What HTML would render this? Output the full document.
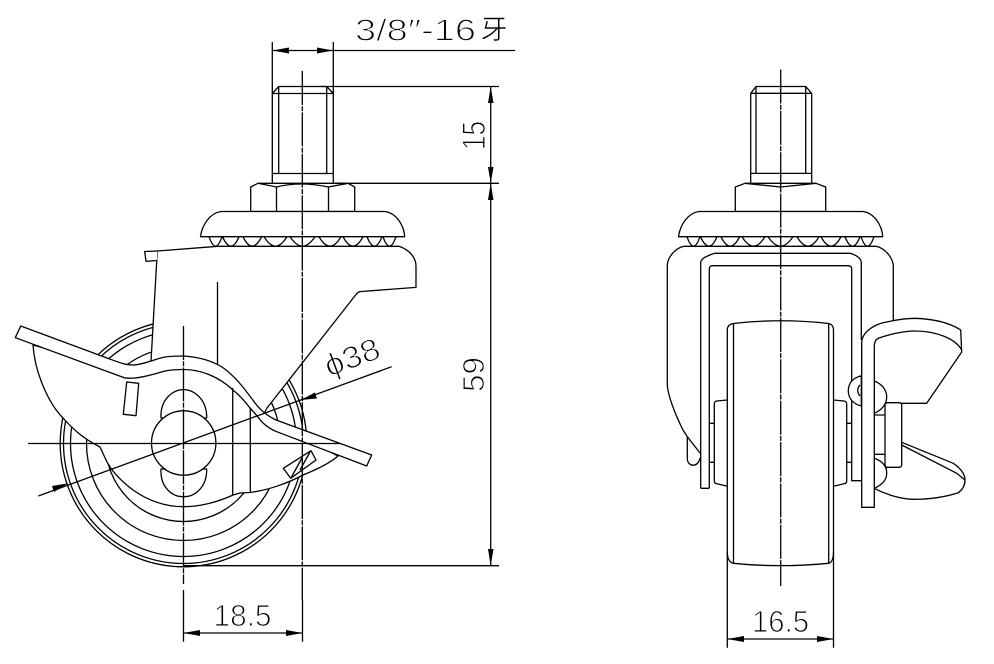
<!DOCTYPE html>
<html><head><meta charset="utf-8"><style>
html,body{margin:0;padding:0;background:#fff}
svg{display:block}
text{font-family:"Liberation Sans","Noto Sans CJK SC",sans-serif;fill:#000;stroke:#fff;stroke-width:1.1px;font-size:31px}
.l{fill:none;stroke:#000;stroke-width:1.3}
.w{fill:#fff;stroke:#000;stroke-width:1.3;stroke-linejoin:round}
.c{fill:none;stroke:#000;stroke-width:1.3;stroke-dasharray:34 1.2 5 1.2}
.a{fill:#000;stroke:none}
</style></head><body>
<svg width="994" height="664" viewBox="0 0 994 664" xmlns="http://www.w3.org/2000/svg">
<rect width="994" height="664" fill="#fff"/>
<!-- text -->
<text x="355" y="40.500" textLength="121" lengthAdjust="spacingAndGlyphs">3/8″-16</text>
<text x="480.500" y="39" style="font-size:27px;stroke-width:.5px">牙</text>
<text transform="translate(484.800 150) rotate(-90)" textLength="29" lengthAdjust="spacingAndGlyphs" style="font-size:32px">15</text>
<text transform="translate(484 392) rotate(-90)" textLength="35" lengthAdjust="spacingAndGlyphs">59</text>
<text x="213.500" y="626" textLength="58" lengthAdjust="spacingAndGlyphs">18.5</text>
<text x="752" y="632" textLength="57" lengthAdjust="spacingAndGlyphs">16.5</text>
<text transform="translate(329 377) rotate(-20.4)" textLength="57" lengthAdjust="spacingAndGlyphs">ϕ38</text>

<defs>
<g id="fl">
<path class="w" d="M200.5 236.7C202 225 210 213 221 211.5L385 211.5C396 213 404 225 404.7 236.7Z"/>
<path class="l" d="M209 236.7Q215.5 255.5 222 236.7M222.5 236.7Q231 255.5 239 236.7M243 236.7Q252 255.5 261.7 236.7M264 236.7Q275.5 255.5 287 236.7M290 236.7Q302.5 255.5 315 236.7M319 236.7Q330 255.5 341 236.7M343 236.7Q353 255.5 363 236.7M367 236.7Q374.5 255.5 382 236.7M383 236.7Q389.5 255.5 396 236.7"/>
</g>
</defs>

<!-- LEFT VIEW: wheel -->
<g class="l">
<circle cx="183.5" cy="443.5" r="123.3"/>
<circle cx="183.5" cy="443.5" r="120"/>
<circle cx="183.5" cy="443.5" r="113"/>
<circle cx="183.5" cy="443.5" r="97"/>
<circle cx="183.5" cy="443.5" r="78"/>
</g>
<!-- bracket -->
<path class="w" d="M157.3 251L218 246.300L399 246.3C410 250 416 258 416 266L416 287.4L360 291.6Q357.500 292.300 356 294.500L267 408L250 440L151 400L151 361.500L157.300 251Z"/>
<path class="w" d="M157.300 251L144.700 251.500L146 261.400L157 260.500"/>
<path class="l" d="M217.500 282L217.500 364"/>
<!-- brake shell -->
<path class="w" d="M33 345C35 375 50 405 63 418C72 428 82 438 100 447L107 462C114 475 125 484 133 490C150 502 168 506.700 183.500 506.700C200 506.700 218 502 233 495L240 493L250 492.500C270 490 290 482 303 475C318 469 330 463 338 456L300 436L265 420L255 409L236 387L215 371L183.500 363L150 368L125 371Z"/>
<!-- lever -->
<path class="w" d="M15.300 337.700L20.700 326L107 358C118 362 125 365 133 365C142 365 155 359 165 357C172 356 178 356 183.500 356C200 357 212 361 222 367C235 376 244 388 255 403C262 412 268 416 276 420L371.700 455L366.700 466L276.700 431.700C270 429 266 426 262 422C258 417 254 412 250 408C244 400 238 394 233 390C218 376 200 369.500 183.500 369.500C175 369.500 170 370 165 371C155 374 145 377 135 378C130 378.500 127 378 125 378Z"/>
<path class="w" d="M126.700 382L138.700 383.300L136 415.700L123.300 414.300Z"/>
<path class="w" d="M283.300 468.300L311 450.700L316 460L290.700 478.300Z"/>
<path class="l" d="M291.500 477L302 458M300 470L310 452"/>
<!-- knob -->
<path class="w" d="M161 418C160 400 172 390 183.500 389.500C195 390 207 400 206.700 418ZM161 469C160 487 172 497 183.500 496.700C195 497 207 487 206.700 469Z"/>
<circle class="w" cx="183.700" cy="443" r="32.200"/>
<path class="l" d="M232.700 388L232.700 495M250.300 408L250.300 493"/>
<!-- flange & nut -->
<path class="w" d="M250.700 211.500L250.700 187L258 183.300L348 183.300L354.700 187L354.700 211.500Z"/>
<path class="l" d="M276.500 211.500L276.500 187M328.500 211.500L328.500 187M258 183.300L276.500 187Q300 181 328.500 187L348 183.300"/>
<use href="#fl"/>
<!-- stud -->
<path class="l" d="M272.300 42L272.300 183M333.300 42L333.300 183M278.700 86.500L278.700 173.500M326.700 86.500L326.700 173.500M272.300 93.500L333.300 93.500M272.300 93.500L278.700 86.500L326.700 86.500L333.300 93.500M272.300 173.500L333.300 173.500"/>
<!-- dims left -->
<path class="l" d="M272.300 50.500L515 50.500M321 86.500L499 86.500M333 183.300L499 183.300M490.700 86.500L490.700 565.700M183.500 565.700L499 565.700M183.500 633L302.500 633M183.500 590L183.500 641.700M302.500 600L302.500 641.700M38.300 496L391.700 366.700M28 443.500L340 443.500"/>
<path class="c" d="M302.300 71L302.300 600M183.500 326L183.500 584"/>
<path class="a" d="M272.300 50.500L289 47.500L289 53.500ZM333.300 50.500L317 47.500L317 53.500ZM490.700 86.500L488 103L493.500 103ZM490.700 183.300L488 167L493.500 167ZM490.700 183.300L488 200L493.500 200ZM490.700 565.700L488 549L493.500 549ZM183.500 633L200 630L200 636ZM302.500 633L286 630L286 636ZM68.300 483.300L52 486L54 492ZM300.700 400L315 392.500L317 398.500Z"/>

<!-- RIGHT VIEW -->
<path class="l" d="M667.300 385L667.300 265C668 256 676 248 684 246.300L876 246.300C884 248 892 256 893.300 265L893.300 322"/>
<path class="l" d="M667.300 385C668 395 674 412 683 430L687.300 436.700L687.300 459C688 467 698 468 700 458"/>
<path class="l" d="M687.300 436.700L700 453"/>
<!-- inner yoke -->
<path class="l" d="M700.700 488.300L700.700 262Q702 257 715 253.300L850 253.300Q860 256 861.300 262L861.300 340M709.300 488.300L709.300 269Q709.300 265.700 713 265.700L848 265.700Q851.700 265.700 851.700 269L851.700 480.700L861.500 480.700M700.700 488.300L709.300 488.300"/>
<!-- wheel -->
<path class="w" d="M727.300 552L727.300 330Q727.300 324.500 733.500 323.500Q780 318 828.700 323.500Q833.500 324.500 833.500 330L833.500 552Q833.500 562 828.700 563.300Q780 568 733.500 563.300Q727.300 562 727.300 552Z"/>
<path class="l" d="M733.500 323.500L733.500 563.300M828.700 323.500L828.700 563.300M727.300 552L727.300 647.700M833.500 552L833.500 647.700"/>
<path class="l" d="M727.300 400L716.700 401Q714.300 401.500 714.300 404L714.300 481Q714.300 483 716 483.500L727.300 486.300M833.500 400L844 401Q846.700 401.500 846.700 404L846.700 481Q846.700 483 845 483.500L833.500 486.300M709.300 423.300L714.300 423.300M709.300 462.300L714.300 462.300M846.700 423.300L851.700 423.300M846.700 462.300L851.700 462.300"/>
<!-- wing upper -->
<path class="w" d="M861.700 406L861.700 342C862 333 872 326 882 323C895 320 905 318.300 915 318.300C935 319 950 323 960.700 330L961.700 352L926.700 403.300L874.300 403.300L861.700 406Z"/>
<path class="l" d="M874.300 345C875 341 876 339 879 338C890 334 905 331 915 331C935 331 955 338 961.700 350"/>
<!-- wing lower -->
<path class="w" d="M901.700 442.300L953.300 463.300C960 468 965 474 965 480C965 486 962 490 958.300 492.700C945 497 930 499.300 913.300 499.300C900 499 885 494 874 488.300Z"/>
<path class="l" d="M901.700 445L956.700 473.300L965 480"/>
<!-- balls -->
<path class="w" d="M861.300 375.700C852 378 848.300 384 848.300 391C848.300 398 853 404 861.300 406Z"/>
<path class="l" d="M860 385C857 388 857 393 860 396"/>
<path class="w" d="M874.300 381C882 384 886.700 390 886.700 397C886.700 404 882 410 874.300 413.300Z"/>
<path class="w" d="M874.300 458.300C882 461 886.700 466 886.700 473.300C886.700 480 882 485 874.300 488.300Z"/>
<path class="l" d="M874.300 415L885 415M874.300 454.300L885 454.300"/>
<rect class="w" x="885" y="402.700" width="16.700" height="64.600" rx="2.500"/>
<!-- lever blade -->
<path class="w" d="M861.700 507.300L861.700 345L874.300 345L874.300 507.300Z" style="stroke:none"/>
<path class="l" d="M861.700 345L861.700 507.300L874.300 507.300L874.300 345"/>
<!-- right flange & nut -->
<path class="w" d="M735.300 211.500L735.300 187L745 183.300L816 183.300L825.700 187L825.700 211.500Z"/>
<path class="l" d="M745 183.300L780.700 187L816 183.300"/>
<use href="#fl" x="478"/>
<path class="l" d="M750.700 93.300L750.700 183M811.700 93.300L811.700 183M756 86.500L756 173.400M805.700 86.500L805.700 173.400M750.700 93.300L811.700 93.300M750.700 93.300L756 86.500L805.700 86.500L811.700 93.300M750.700 173.400L811.700 173.400"/>
<path class="c" d="M780.700 69.500L780.700 586"/>
<path class="l" d="M727.300 639L833.500 639"/>
<path class="a" d="M727.300 639L744 636L744 642ZM833.500 639L817 636L817 642Z"/>
</svg>
</body></html>
